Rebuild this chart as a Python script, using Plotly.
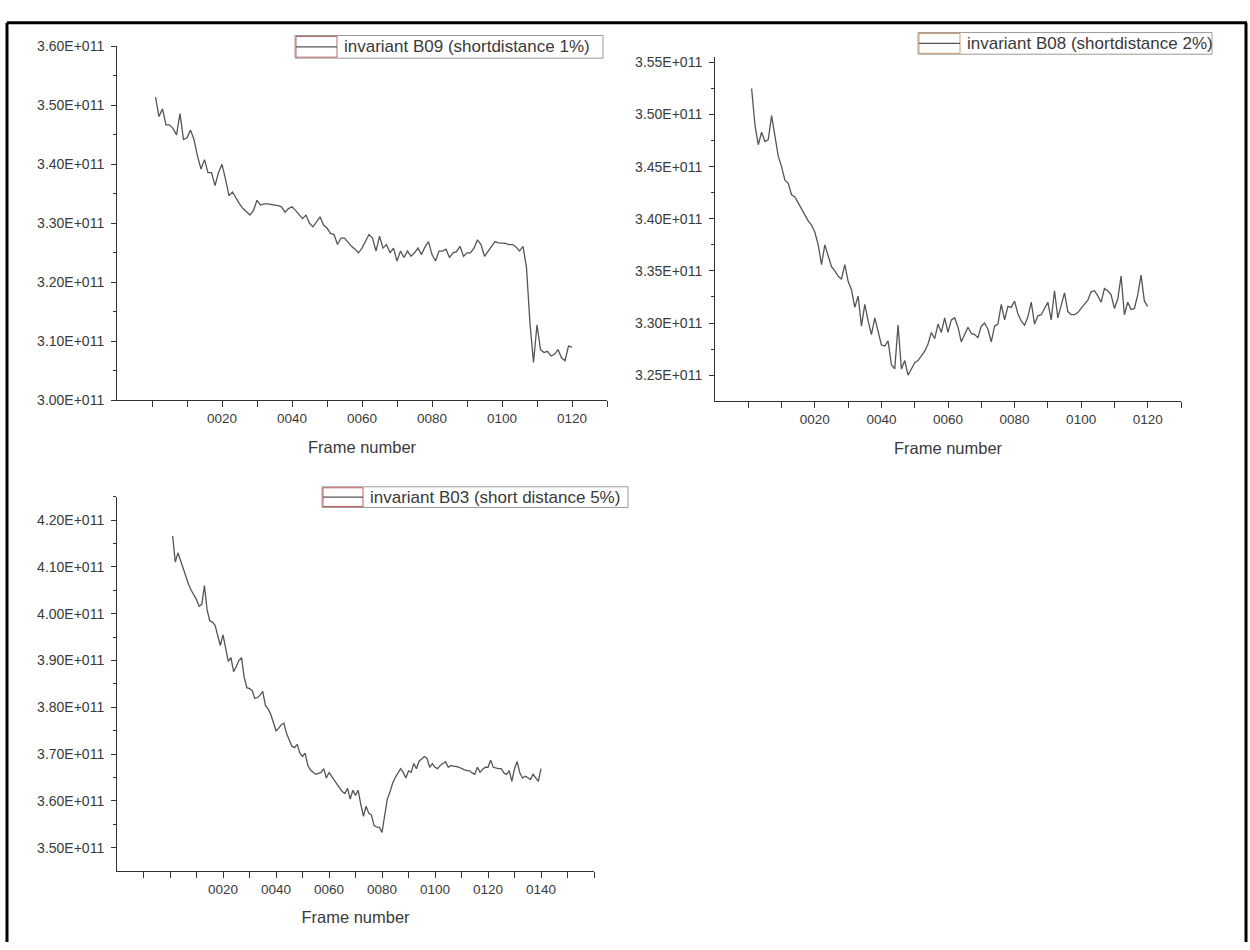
import plotly.graph_objects as go

W, H = 1250, 950

# ---------------- data (values in units of 1e11) ----------------
b09_frames = list(range(1, 121))
b09_values = [
    3.514, 3.481, 3.494, 3.467, 3.467, 3.461, 3.450, 3.486, 3.442, 3.445,
    3.458, 3.442, 3.414, 3.392, 3.408, 3.386, 3.386, 3.364, 3.386, 3.400,
    3.375, 3.347, 3.353, 3.342, 3.333, 3.325, 3.319, 3.314, 3.322, 3.339,
    3.331, 3.333, 3.333, 3.332, 3.332, 3.330, 3.328, 3.319, 3.325, 3.328,
    3.322, 3.314, 3.308, 3.314, 3.300, 3.294, 3.303, 3.311, 3.297, 3.292,
    3.283, 3.281, 3.264, 3.275, 3.275, 3.267, 3.261, 3.256, 3.250, 3.258,
    3.270, 3.281, 3.275, 3.253, 3.278, 3.258, 3.264, 3.250, 3.258, 3.236,
    3.253, 3.242, 3.253, 3.244, 3.250, 3.258, 3.247, 3.260, 3.269, 3.247,
    3.236, 3.253, 3.253, 3.256, 3.242, 3.250, 3.252, 3.261, 3.244, 3.250,
    3.250, 3.258, 3.272, 3.264, 3.244, 3.253, 3.262, 3.269, 3.267, 3.267,
    3.266, 3.264, 3.264, 3.260, 3.253, 3.261, 3.225, 3.130, 3.064, 3.128,
    3.086, 3.081, 3.083, 3.075, 3.078, 3.086, 3.072, 3.067, 3.092, 3.090,
]

b08_frames = list(range(1, 121))
b08_values = [
    3.525, 3.490, 3.471, 3.483, 3.474, 3.476, 3.499, 3.479, 3.460, 3.450,
    3.437, 3.434, 3.423, 3.421, 3.415, 3.409, 3.403, 3.398, 3.394, 3.387,
    3.375, 3.356, 3.375, 3.364, 3.354, 3.350, 3.345, 3.342, 3.356, 3.340,
    3.332, 3.315, 3.326, 3.297, 3.318, 3.302, 3.289, 3.305, 3.291, 3.279,
    3.278, 3.283, 3.260, 3.256, 3.298, 3.256, 3.264, 3.250, 3.256, 3.262,
    3.264, 3.268, 3.273, 3.280, 3.291, 3.285, 3.299, 3.291, 3.305, 3.291,
    3.303, 3.305, 3.296, 3.282, 3.289, 3.296, 3.290, 3.289, 3.286, 3.297,
    3.300, 3.294, 3.282, 3.297, 3.299, 3.318, 3.303, 3.316, 3.315, 3.321,
    3.309, 3.302, 3.298, 3.306, 3.320, 3.299, 3.307, 3.308, 3.314, 3.320,
    3.303, 3.331, 3.305, 3.318, 3.329, 3.311, 3.308, 3.308, 3.310, 3.314,
    3.318, 3.322, 3.330, 3.331, 3.326, 3.320, 3.333, 3.331, 3.327, 3.314,
    3.323, 3.345, 3.308, 3.320, 3.313, 3.314, 3.327, 3.346, 3.321, 3.316,
]

b03_frames = list(range(1, 141))
b03_values = [
    4.166, 4.110, 4.130, 4.113, 4.095, 4.077, 4.063, 4.050, 4.040, 4.030,
    4.016, 4.020, 4.060, 4.008, 3.985, 3.982, 3.975, 3.950, 3.932, 3.955,
    3.925, 3.898, 3.906, 3.876, 3.887, 3.900, 3.906, 3.864, 3.842, 3.840,
    3.836, 3.819, 3.821, 3.826, 3.834, 3.804, 3.797, 3.785, 3.768, 3.750,
    3.755, 3.763, 3.766, 3.744, 3.730, 3.717, 3.714, 3.721, 3.702, 3.695,
    3.702, 3.676, 3.666, 3.661, 3.657, 3.659, 3.661, 3.669, 3.649, 3.661,
    3.652, 3.642, 3.636, 3.628, 3.620, 3.616, 3.627, 3.604, 3.623, 3.612,
    3.623, 3.593, 3.567, 3.589, 3.574, 3.570, 3.548, 3.544, 3.544, 3.533,
    3.570, 3.604, 3.619, 3.638, 3.650, 3.661, 3.669, 3.661, 3.649, 3.664,
    3.661, 3.680, 3.669, 3.685, 3.691, 3.695, 3.691, 3.672, 3.680, 3.672,
    3.669, 3.676, 3.680, 3.684, 3.672, 3.676, 3.674, 3.674, 3.672, 3.669,
    3.667, 3.665, 3.665, 3.660, 3.657, 3.672, 3.661, 3.668, 3.672, 3.672,
    3.687, 3.672, 3.670, 3.669, 3.669, 3.660, 3.657, 3.665, 3.642, 3.669,
    3.684, 3.660, 3.649, 3.653, 3.650, 3.646, 3.657, 3.650, 3.642, 3.669,
]

SCALE = 1e11
names = ["invariant B09 (shortdistance 1%)",
         "invariant B08 (shortdistance 2%)",
         "invariant B03 (short distance 5%)"]

y1_ticks = [3.00, 3.10, 3.20, 3.30, 3.40, 3.50, 3.60]
y2_ticks = [3.25, 3.30, 3.35, 3.40, 3.45, 3.50, 3.55]
y3_ticks = [3.50, 3.60, 3.70, 3.80, 3.90, 4.00, 4.10, 4.20]
x12_ticks = list(range(0, 131, 10))
x3_ticks = list(range(-10, 161, 10))

# ---------------- helpers ----------------
def px_x(p):
    return p / W

def px_y(p):
    return 1 - p / H

FONT = "Liberation Sans, Arial, sans-serif"
LINE_COL = "#555555"
AX_COL = "#333333"
TXT_COL = "#3a3a3a"

def xaxis_cfg(dom, rng, ticks, last_label, anchor):
    labels = [f"{v:04d}" if (20 <= v <= last_label and v % 20 == 0) else "" for v in ticks]
    return dict(
        domain=dom, range=rng, anchor=anchor,
        tickmode="array", tickvals=ticks, ticktext=labels,
        ticks="outside", ticklen=6, tickcolor=AX_COL, tickwidth=1,
        showline=True, linecolor=AX_COL, linewidth=1,
        showgrid=False, zeroline=False,
        tickfont=dict(family=FONT, size=13.5, color=TXT_COL),
        title=dict(text="Frame number", standoff=15,
                   font=dict(family=FONT, size=16.5, color=TXT_COL)),
    )

def yaxis_cfg(dom, rng, ticks, minor_vals, anchor):
    return dict(
        domain=dom, range=[r * SCALE for r in rng], anchor=anchor,
        tickmode="array", tickvals=[t * SCALE for t in ticks],
        ticktext=[f"{t:.2f}E+011" for t in ticks],
        ticks="outside", ticklen=5, tickcolor=AX_COL, tickwidth=1,
        minor=dict(tickmode="array", tickvals=[m * SCALE for m in minor_vals],
                   ticks="outside", ticklen=3, tickcolor=AX_COL),
        showline=True, linecolor=AX_COL, linewidth=1,
        showgrid=False, zeroline=False,
        ticklabelstandoff=4,
        tickfont=dict(family=FONT, size=14, color=TXT_COL),
    )

fig = go.Figure()

for fr, vals, xa, ya in [(b09_frames, b09_values, "x", "y"),
                         (b08_frames, b08_values, "x2", "y2"),
                         (b03_frames, b03_values, "x3", "y3")]:
    fig.add_trace(go.Scatter(x=fr, y=[v * SCALE for v in vals],
                             mode="lines", showlegend=False,
                             line=dict(color=LINE_COL, width=1.3),
                             xaxis=xa, yaxis=ya))

fig.update_layout(
    width=W, height=H,
    margin=dict(l=0, r=0, t=0, b=0),
    paper_bgcolor="white", plot_bgcolor="white",
    xaxis=xaxis_cfg([px_x(117), px_x(607)], [-10, 130], x12_ticks, 120, "y"),
    yaxis=yaxis_cfg([px_y(399), px_y(39)], [3.00, 3.60], y1_ticks,
                    [3.05, 3.15, 3.25, 3.35, 3.45, 3.55], "x"),
    xaxis2=xaxis_cfg([px_x(715), px_x(1181)], [-10, 130], x12_ticks, 120, "y2"),
    yaxis2=yaxis_cfg([px_y(400), px_y(50)], [3.225, 3.555], y2_ticks,
                     [3.275, 3.325, 3.375, 3.425, 3.475, 3.525], "x2"),
    xaxis3=xaxis_cfg([px_x(117), px_x(594)], [-20, 160], x3_ticks, 140, "y3"),
    yaxis3=yaxis_cfg([px_y(878), px_y(497)], [3.45, 4.25], y3_ticks,
                     [3.55, 3.65, 3.75, 3.85, 3.95, 4.05, 4.15, 4.25], "x3"),
)

# ---- legends (box + sample + text), one per panel ----
def legend_box(x0, x1, y0, y1, sample_w, accent, text):
    ym = (y0 + y1) / 2
    fig.add_shape(type="rect", xref="paper", yref="paper",
                  x0=px_x(x0), x1=px_x(x1), y0=px_y(y1), y1=px_y(y0),
                  line=dict(color="#9a9a9a", width=1), fillcolor="white")
    fig.add_shape(type="rect", xref="paper", yref="paper",
                  x0=px_x(x0 + 1), x1=px_x(x0 + sample_w), y0=px_y(y1 - 1), y1=px_y(y0 + 1),
                  line=dict(color=accent, width=1))
    fig.add_shape(type="line", xref="paper", yref="paper",
                  x0=px_x(x0 + 1), x1=px_x(x0 + sample_w), y0=px_y(ym), y1=px_y(ym),
                  line=dict(color=LINE_COL, width=1.2))
    fig.add_annotation(xref="paper", yref="paper", x=px_x(x0 + sample_w + 5), y=px_y(ym),
                       xanchor="left", yanchor="middle", showarrow=False, text=text,
                       font=dict(family=FONT, size=17, color=TXT_COL))

legend_box(295, 603, 28, 51, 42, "#b86a6a", names[0])
legend_box(918, 1212, 25, 47, 42, "#d09a70", names[1])
legend_box(322, 628, 487, 508, 41, "#c85a5a", names[2])

# outer frame of the picture
frame_style = dict(color="black", width=3)
fig.add_shape(type="line", xref="paper", yref="paper",
              x0=px_x(7), x1=px_x(1247), y0=px_y(15), y1=px_y(15), line=frame_style)
fig.add_shape(type="line", xref="paper", yref="paper",
              x0=px_x(7), x1=px_x(7), y0=px_y(15), y1=0, line=frame_style)
fig.add_shape(type="line", xref="paper", yref="paper",
              x0=px_x(1246), x1=px_x(1246), y0=px_y(15), y1=0, line=frame_style)

fig.write_html("out.html")
